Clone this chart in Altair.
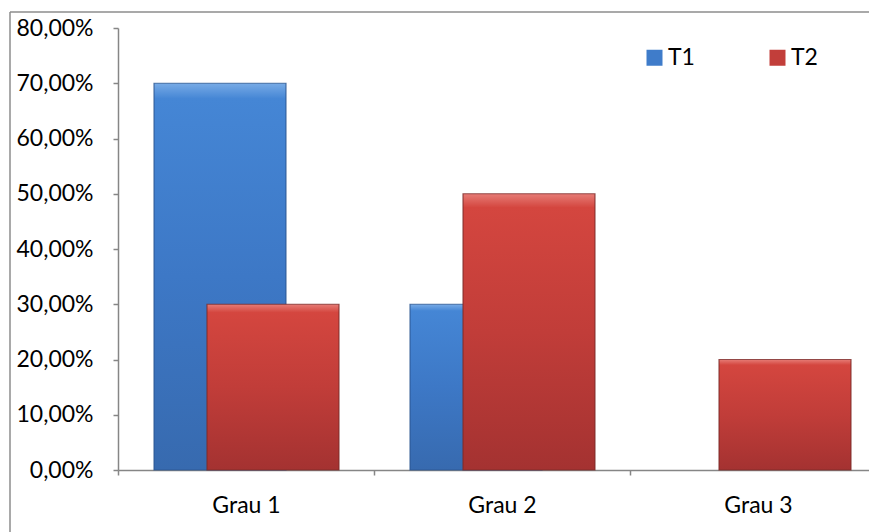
import altair as alt
import pandas as pd

# Share of each grade in the two periods
grades = ["Grau 1", "Grau 2", "Grau 3"]
t1_values = [0.70, 0.30, 0.00]
t2_values = [0.30, 0.50, 0.20]
series_names = ["T1", "T2"]

df = pd.DataFrame(
    {
        "grau": grades * 2,
        "serie": ["T1"] * 3 + ["T2"] * 3,
        "valor": t1_values + t2_values,
    }
)

FONT = "Lato"
AXIS_GREY = "#868686"

blue_fill = alt.Gradient(
    gradient="linear",
    stops=[
        alt.GradientStop(color="#78abe6", offset=0),
        alt.GradientStop(color="#4586d5", offset=0.04),
        alt.GradientStop(color="#3d78c6", offset=0.5),
        alt.GradientStop(color="#376aaf", offset=1),
    ],
    x1=0, x2=0, y1=0, y2=1,
)
red_fill = alt.Gradient(
    gradient="linear",
    stops=[
        alt.GradientStop(color="#e67c76", offset=0),
        alt.GradientStop(color="#d4463f", offset=0.05),
        alt.GradientStop(color="#c13d39", offset=0.5),
        alt.GradientStop(color="#a43231", offset=1),
    ],
    x1=0, x2=0, y1=0, y2=1,
)

x_enc = alt.X(
    "grau:N",
    sort=grades,
    scale=alt.Scale(domain=grades, range=[0, 768], paddingInner=0, paddingOuter=0),
    axis=alt.Axis(
        title=None,
        labelAngle=0,
        labelFont=FONT,
        labelFontSize=23,
        labelColor="#000000",
        labelPadding=19,
        domainColor=AXIS_GREY,
        domainWidth=1.5,
        tickColor=AXIS_GREY,
        tickWidth=1.5,
        tickSize=5,
        tickBand="extent",
    ),
)
y_enc = alt.Y(
    "valor:Q",
    scale=alt.Scale(domain=[0, 0.8], nice=False),
    axis=alt.Axis(
        title=None,
        values=[0, 0.1, 0.2, 0.3, 0.4, 0.5, 0.6, 0.7, 0.8],
        labelExpr="replace(format(datum.value, '.2%'), '.', ',')",
        labelFont=FONT,
        labelFontSize=23,
        labelColor="#000000",
        labelPadding=20,
        grid=False,
        domainColor=AXIS_GREY,
        domainWidth=1.5,
        tickColor=AXIS_GREY,
        tickWidth=1.5,
        tickSize=5,
    ),
)

bars_t1 = (
    alt.Chart(df)
    .transform_filter("datum.serie == 'T1' && datum.valor > 0")
    .mark_bar(size=132, xOffset=-26, fill=blue_fill, stroke="#2a5590", strokeWidth=1.2, strokeOpacity=0.8)
    .encode(x=x_enc, y=y_enc)
)
bars_t2 = (
    alt.Chart(df)
    .transform_filter("datum.serie == 'T2' && datum.valor > 0")
    .mark_bar(size=132, xOffset=27, fill=red_fill, stroke="#7c2b29", strokeWidth=1.2, strokeOpacity=0.8)
    .encode(x=x_enc, y=y_enc)
)

# invisible layer that only carries the series legend
legend_layer = (
    alt.Chart(df)
    .mark_point(filled=True, opacity=0, shape="square")
    .encode(
        x=x_enc,
        y=y_enc,
        color=alt.Color(
            "serie:N",
            scale=alt.Scale(domain=series_names, range=["#3f7cca", "#c23e3a"]),
            legend=alt.Legend(
                title=None,
                orient="none",
                legendX=525,
                legendY=18,
                direction="horizontal",
                symbolType="square",
                symbolSize=256,
                symbolOpacity=1,
                symbolStrokeWidth=0,
                labelFont=FONT,
                labelFontSize=23,
                labelColor="#000000",
                labelOffset=2,
                columnPadding=71,
                padding=0,
            ),
        ),
    )
)

# outer frame of the chart area
frame_left = (
    alt.Chart(alt.Data(values=[{}]))
    .mark_rule(color="#8c8c8c", strokeWidth=1.5)
    .encode(x=alt.value(-108), y=alt.value(-16), y2=alt.value(510))
)
frame_top = (
    alt.Chart(alt.Data(values=[{}]))
    .mark_rule(color="#8c8c8c", strokeWidth=1.5)
    .encode(x=alt.value(-108), x2=alt.value(760), y=alt.value(-16))
)

chart = (
    alt.layer(frame_left, frame_top, bars_t1, bars_t2, legend_layer)
    .properties(
        width=751,
        height=442,
        padding={"left": 118, "top": 28, "right": 0, "bottom": 62},
        autosize=alt.AutoSizeParams(type="none"),
        background="#ffffff",
    )
    .configure_view(strokeWidth=0)
)

chart.save("out.html", embed_options={"renderer": "svg", "actions": False})
